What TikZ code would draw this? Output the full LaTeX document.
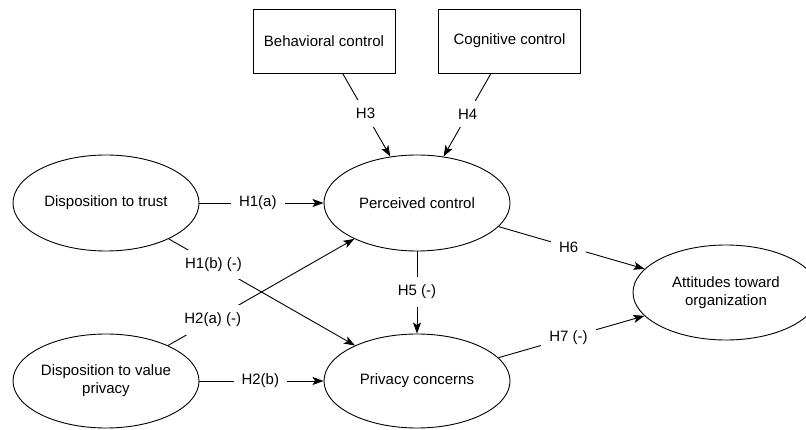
\documentclass[tikz,border=0pt]{standalone}
\usepackage{fontspec}
\setmainfont{Liberation Sans}
\usetikzlibrary{shapes.geometric,arrows.meta}
\begin{document}
\begin{tikzpicture}[x=1pt,y=-1pt,
  every node/.style={font=\fontsize{15}{18}\selectfont},
  oval/.style={draw,ellipse,minimum width=186pt,minimum height=96pt,inner sep=0pt,line width=0.9pt,align=center},
  boxnode/.style={draw,rectangle,minimum width=142pt,minimum height=64pt,inner sep=0pt,line width=0.9pt},
  link/.style={line width=0.9pt,-{Stealth[length=11pt,width=8pt,inset=2.5pt]}},
  lbl/.style={fill=white,inner xsep=8pt,inner ysep=8pt}]
\useasboundingbox (0,0) rectangle (806,430);
\node[oval] (dt) at (106,203) {Disposition to trust};
\node[oval,minimum height=94pt] (dv) at (106,381) {Disposition to value\\privacy};
\node[oval] (pc) at (417,203) {Perceived control};
\node[oval,minimum height=94pt] (pr) at (417,381) {Privacy concerns};
\node[oval,minimum height=95pt] (at) at (726,292.5) {Attitudes toward\\organization};
\node[boxnode] (bc) at (324,41) {Behavioral control};
\node[boxnode] (cc) at (509.5,41) {Cognitive control};
\draw[link] (bc) -- node[lbl,pos=0.48] {H3} (pc);
\draw[link] (cc) -- node[lbl,pos=0.49] {H4} (pc);
\draw[link] (dt) -- node[lbl,pos=0.47] {H1(a)} (pc);
\draw[link] (dv) -- node[lbl,pos=0.49] {H2(b)} (pr);
\draw[link] (dt) -- node[lbl,pos=0.24] {H1(b) (-)} (pr);
\draw[link] (dv) -- node[lbl,pos=0.24] {H2(a) (-)} (pc);
\draw[link] (pc) -- node[lbl,pos=0.49] {H5 (-)} (pr);
\draw[link] (pc) -- node[lbl,pos=0.48] {H6} (at);
\draw[link] (pr) -- node[lbl,pos=0.48] {H7 (-)} (at);
\end{tikzpicture}
\end{document}
